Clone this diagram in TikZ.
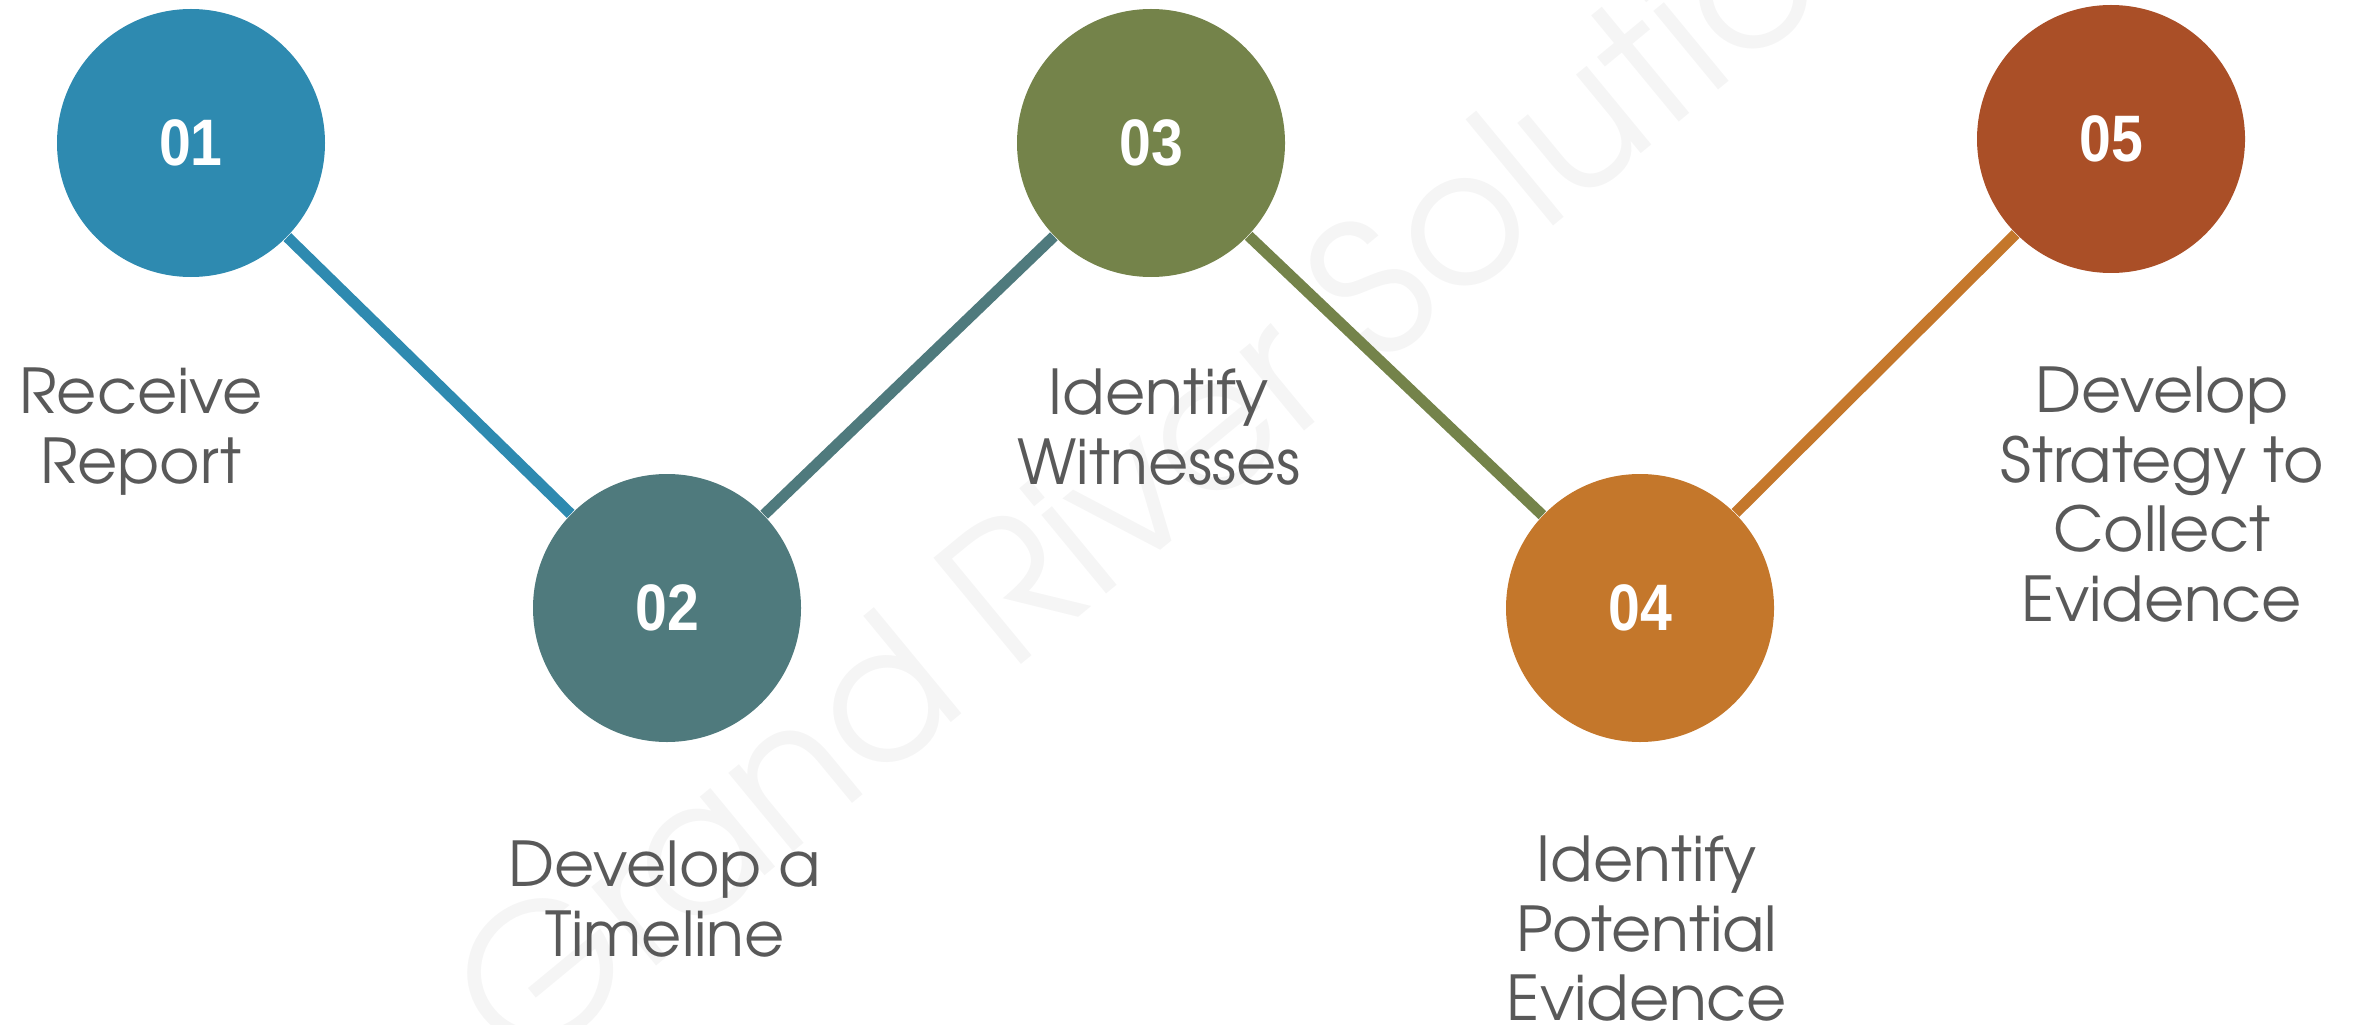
\documentclass[tikz,border=0pt]{standalone}
\usepackage{fontspec}
\newfontfamily\labelfont{TeX Gyre Adventor}
\newfontfamily\numfont{Liberation Sans}[FakeStretch=0.87]
\usetikzlibrary{positioning}
\definecolor{stepblue}{HTML}{2E8AB0}
\definecolor{stepteal}{HTML}{4F7A7D}
\definecolor{stepgreen}{HTML}{74834A}
\definecolor{steporange}{HTML}{C4772B}
\definecolor{steprust}{HTML}{AA4F27}
\definecolor{labelgray}{HTML}{595959}
\definecolor{markgray}{HTML}{F5F5F5}

\begin{document}
\begin{tikzpicture}[
		stepcircle/.style = {circle, inner sep = 0pt, minimum size = 2.68cm, text = white, font = \numfont\bfseries\fontsize{18.7}{20}\selectfont},
		steplabel/.style = {anchor = north, inner sep = 0pt, align = center, text = labelgray, font = \labelfont\fontsize{17.6}{19.8}\selectfont},
		link/.style = {line width = 0.11cm},
	]
	\useasboundingbox (0,0) rectangle (23.62,10.24);
	% watermark
	\node[rotate = 39.5, text = markgray, font = \labelfont\fontsize{53}{53}\selectfont] (W) at (12.05,6.0) {Grand River Solutions};

	\node[stepcircle, fill = stepblue](C1) at (1.91,8.81){01};
	\node[stepcircle, fill = stepteal](C2) at (6.67,4.16){02};
	\node[stepcircle, fill = stepgreen](C3) at (11.51,8.81){03};
	\node[stepcircle, fill = steporange](C4) at (16.40,4.16){04};
	\node[stepcircle, fill = steprust](C5) at (21.11,8.85){05};

	\draw[link, stepblue](C1)--(C2);
	\draw[link, stepteal](C2)--(C3);
	\draw[link, stepgreen](C3)--(C4);
	\draw[link, steporange](C4)--(C5);

	\node[steplabel](T1) at (1.41,6.57){Receive\\Report};
	\node[steplabel](T2) at (6.65,1.84){Develop a\\Timeline};
	\node[steplabel](T3) at (11.59,6.56){Identify\\Witnesses};
	\node[steplabel](T4) at (16.47,1.89){Identify\\Potential\\Evidence};
	\node[steplabel](T5) at (21.62,6.58){Develop\\Strategy to\\Collect\\Evidence};
\end{tikzpicture}
\end{document}
